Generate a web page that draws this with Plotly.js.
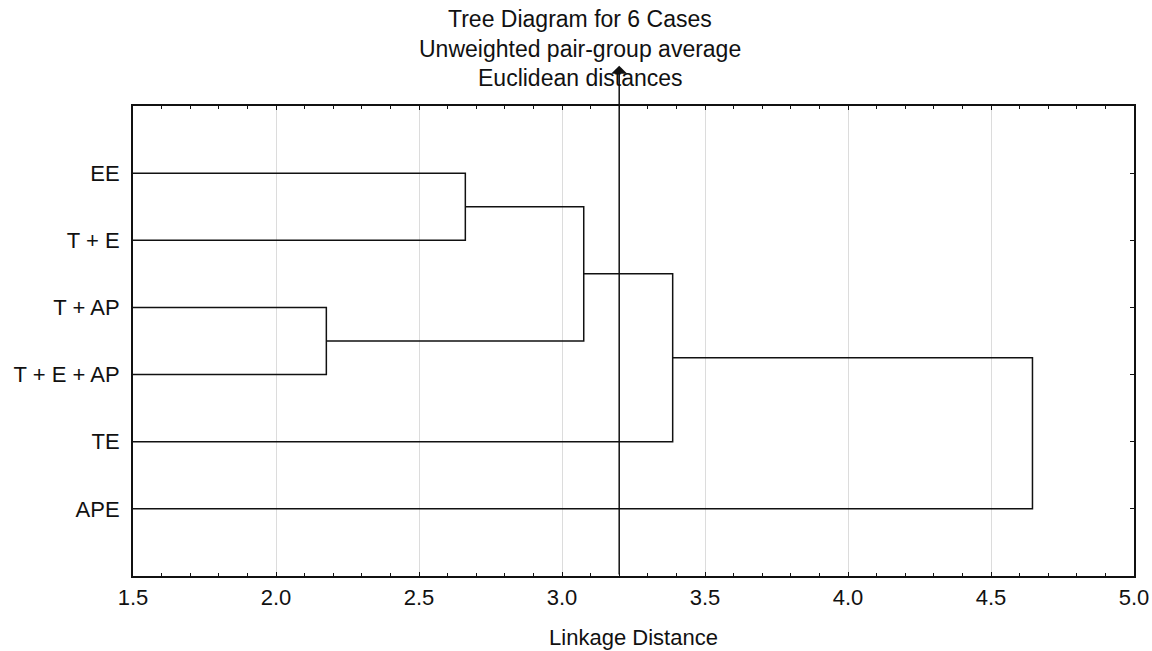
<!DOCTYPE html>
<html><head><meta charset="utf-8">
<script src="https://cdn.plot.ly/plotly-3.0.1.min.js"></script>
<style>html,body{margin:0;padding:0;background:#fff}#chart{width:1152px;height:651px}</style>
</head><body><div id="chart"></div>
<script>
// Leaves (top to bottom)
const leafLabels = ["EE", "T + E", "T + AP", "T + E + AP", "TE", "APE"];
// Merge table: ids 0..5 are leaves, 6.. are clusters in merge order
const mergeA = [0, 2, 6, 8, 9];
const mergeB = [1, 3, 7, 4, 5];
const mergeDist = [2.662, 2.176, 3.076, 3.387, 4.645];
const cutoffDist = 3.2;
const xTickVals = [1.5, 2.0, 2.5, 3.0, 3.5, 4.0, 4.5, 5.0];
const titleLines = ["Tree Diagram for 6 Cases", "Unweighted pair-group average", "Euclidean distances"];

const pos = [], hgt = [];
leafLabels.forEach((l, i) => { pos[i] = i + 1; hgt[i] = 0; });
const lx = [], ly = [];
mergeDist.forEach((d, k) => {
  const a = mergeA[k], b = mergeB[k], id = leafLabels.length + k;
  lx.push(hgt[a], d, d, hgt[b], null);
  ly.push(pos[a], pos[a], pos[b], pos[b], null);
  pos[id] = (pos[a] + pos[b]) / 2;
  hgt[id] = d;
});

const FONT = "Liberation Sans, Arial, sans-serif";
const FS = 22;
const data = [{
  type: "scatter", mode: "lines", x: lx, y: ly,
  line: {color: "#111", width: 1.5}, hoverinfo: "skip", showlegend: false
}];

const titleY = [1.185, 1.121, 1.059];
const annotations = titleLines.map((t, i) => ({
  text: t, x: 0.4466, y: titleY[i], xref: "paper", yref: "paper",
  xanchor: "center", yanchor: "middle", showarrow: false,
  font: {family: FONT, size: 23, color: "#111"}
}));
annotations.push({
  x: cutoffDist, y: -0.6, xref: "x", yref: "y",
  ax: cutoffDist, ay: 7, axref: "x", ayref: "y",
  text: "", showarrow: true, arrowhead: 1, arrowsize: 1.8, arrowwidth: 1.5,
  arrowcolor: "#111", standoff: 0, startstandoff: 0
});

const layout = {
  width: 1152, height: 651,
  paper_bgcolor: "#fff", plot_bgcolor: "#fff",
  margin: {l: 133, r: 18, t: 106, b: 75},
  font: {family: FONT, size: FS, color: "#111"},
  xaxis: {
    range: [1.5, 5.0], tickvals: xTickVals, tickformat: ".1f",
    ticks: "inside", ticklen: 4, tickwidth: 1, tickcolor: "#111",
    showline: true, linecolor: "#111", linewidth: 2, mirror: "allticks",
    showgrid: true, gridcolor: "#dcdcdc", gridwidth: 1, zeroline: false,
    minor: {dtick: 0.1, ticks: "inside", ticklen: 3, tickwidth: 1, tickcolor: "#111", showgrid: false},
    tickfont: {family: FONT, size: FS, color: "#111"}, ticklabelstandoff: 1,
    title: {text: "Linkage Distance", font: {family: FONT, size: FS, color: "#111"}, standoff: 20}
  },
  yaxis: {
    range: [7, 0], tickvals: leafLabels.map((l, i) => i + 1), ticktext: leafLabels,
    ticks: "inside", ticklen: 4, tickwidth: 1, tickcolor: "#111",
    showline: true, linecolor: "#111", linewidth: 2, mirror: "allticks",
    showgrid: false, zeroline: false, ticklabelstandoff: 7,
    tickfont: {family: FONT, size: FS, color: "#111"}
  },
  annotations: annotations
};

Plotly.newPlot("chart", data, layout, {displayModeBar: false, staticPlot: true});
</script>
</body></html>
